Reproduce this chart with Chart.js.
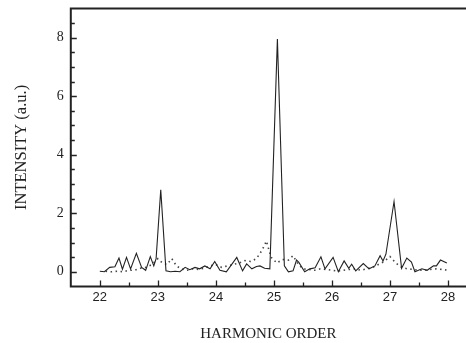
<!DOCTYPE html>
<html>
<head>
<meta charset="utf-8">
<script src="https://cdn.jsdelivr.net/npm/chart.js@4.4.0/dist/chart.umd.min.js"></script>
<style>
  html, body { margin: 0; padding: 0; background: #fff; }
  #wrap { width: 466px; height: 343px; }
</style>
</head>
<body>
<div id="wrap"><canvas id="grafico"></canvas></div>
<script>
// harmonic spectrum, two shots (solid and dotted)
const solidX = [22.0, 22.08, 22.17, 22.26, 22.33, 22.39, 22.46, 22.53, 22.63, 22.72, 22.79, 22.87, 22.93, 22.97, 23.05, 23.14, 23.22, 23.3, 23.38, 23.47, 23.55, 23.64, 23.72, 23.81, 23.9, 23.98, 24.07, 24.18, 24.36, 24.46, 24.53, 24.62, 24.7, 24.76, 24.84, 24.93, 25.06, 25.18, 25.25, 25.33, 25.39, 25.43, 25.53, 25.62, 25.71, 25.81, 25.88, 26.02, 26.11, 26.21, 26.29, 26.34, 26.41, 26.54, 26.64, 26.74, 26.83, 26.88, 26.93, 27.07, 27.2, 27.29, 27.37, 27.43, 27.55, 27.64, 27.75, 27.8, 27.87, 27.98];
const solidY = [0.02, 0.0, 0.15, 0.17, 0.47, 0.09, 0.49, 0.1, 0.63, 0.15, 0.05, 0.52, 0.2, 0.45, 2.8, 0.03, 0.0, 0.02, 0.0, 0.15, 0.07, 0.15, 0.1, 0.2, 0.1, 0.35, 0.05, 0.0, 0.49, 0.03, 0.27, 0.1, 0.18, 0.2, 0.12, 0.1, 7.95, 0.2, 0.0, 0.03, 0.4, 0.32, 0.0, 0.1, 0.14, 0.51, 0.1, 0.49, 0.0, 0.37, 0.12, 0.26, 0.03, 0.28, 0.1, 0.2, 0.55, 0.37, 0.6, 2.4, 0.12, 0.47, 0.33, 0.0, 0.1, 0.05, 0.2, 0.2, 0.4, 0.3];

const dotX = [22.1, 22.2, 22.3, 22.4, 22.5, 22.6, 22.7, 22.8, 22.9, 23.0, 23.08, 23.16, 23.24, 23.32, 23.4, 23.5, 23.6, 23.7, 23.8, 23.9, 24.0, 24.1, 24.2, 24.3, 24.4, 24.5, 24.6, 24.7, 24.8, 24.87, 24.95, 25.05, 25.15, 25.25, 25.33, 25.42, 25.5, 25.6, 25.7, 25.8, 25.9, 26.0, 26.1, 26.2, 26.3, 26.4, 26.5, 26.6, 26.7, 26.8, 26.9, 27.0, 27.1, 27.2, 27.3, 27.4, 27.5, 27.6, 27.7, 27.8, 27.9, 28.0];
const dotY = [0.02, 0.0, 0.02, 0.0, 0.05, 0.05, 0.12, 0.15, 0.25, 0.45, 0.3, 0.25, 0.45, 0.2, 0.1, 0.05, 0.1, 0.08, 0.12, 0.2, 0.25, 0.15, 0.2, 0.25, 0.3, 0.38, 0.35, 0.45, 0.75, 1.05, 0.5, 0.3, 0.42, 0.4, 0.55, 0.25, 0.1, 0.08, 0.05, 0.1, 0.08, 0.05, 0.02, 0.05, 0.08, 0.1, 0.05, 0.1, 0.15, 0.25, 0.35, 0.52, 0.3, 0.15, 0.1, 0.08, 0.05, 0.05, 0.08, 0.1, 0.08, 0.05];

const xTicks = [22, 23, 24, 25, 26, 27, 28];
const yTicks = [0, 2, 4, 6, 8];

const pontos = (xs, ys) => xs.map((x, i) => ({ x: x, y: ys[i] }));

// inward ticks + frame lines
const moldura = {
  id: "moldura",
  afterDraw(chart) {
    const ctx = chart.ctx;
    const a = chart.chartArea;
    const sx = chart.scales.x;
    const sy = chart.scales.y;
    ctx.save();
    ctx.strokeStyle = "#222";
    ctx.lineWidth = 2;
    ctx.beginPath();
    ctx.moveTo(a.left - 1, a.top);
    ctx.lineTo(a.right, a.top);
    ctx.moveTo(a.left, a.top);
    ctx.lineTo(a.left, a.bottom + 1);
    ctx.moveTo(a.left - 1, a.bottom);
    ctx.lineTo(a.right, a.bottom);
    ctx.stroke();
    ctx.lineWidth = 1.3;
    ctx.beginPath();
    for (let v = 22; v <= 28; v += 0.5) {
      const px = Math.round(sx.getPixelForValue(v)) + 0.5;
      const len = xTicks.includes(v) ? 6 : 4;
      ctx.moveTo(px, a.bottom);
      ctx.lineTo(px, a.bottom - len);
    }
    for (let v = 0; v <= 8.5; v += 0.5) {
      const py = Math.round(sy.getPixelForValue(v)) + 0.5;
      const len = yTicks.includes(v) ? 6 : 4;
      ctx.moveTo(a.left, py);
      ctx.lineTo(a.left + len, py);
    }
    ctx.stroke();
    ctx.restore();
  }
};

new Chart(document.getElementById("grafico"), {
  type: "line",
  data: {
    datasets: [
      {
        data: pontos(solidX, solidY),
        borderColor: "#222",
        borderWidth: 1.1,
        pointRadius: 0,
        tension: 0
      },
      {
        data: pontos(dotX, dotY),
        borderColor: "#444",
        borderWidth: 1.6,
        borderDash: [1.5, 3.5],
        pointRadius: 0,
        tension: 0
      }
    ]
  },
  options: {
    responsive: true,
    maintainAspectRatio: false,
    animation: false,
    events: [],
    layout: { padding: { left: 8, right: 0, top: 6, bottom: 0 } },
    plugins: { legend: { display: false }, tooltip: { enabled: false } },
    scales: {
      x: {
        type: "linear",
        min: 21.5,
        max: 28.31,
        afterBuildTicks: s => { s.ticks = xTicks.map(v => ({ value: v })); },
        grid: { display: false, drawTicks: false },
        border: { display: false },
        ticks: {
          autoSkip: false,
          maxRotation: 0,
          padding: 3,
          color: "#222",
          font: { family: "Liberation Sans", size: 13 }
        },
        title: {
          display: true,
          text: "HARMONIC ORDER",
          color: "#222",
          font: { family: "Liberation Serif", size: 15 },
          padding: { top: 17, bottom: 0 }
        }
      },
      y: {
        type: "linear",
        min: -0.5,
        max: 9,
        afterBuildTicks: s => { s.ticks = yTicks.map(v => ({ value: v })); },
        grid: { display: false, drawTicks: false },
        border: { display: false },
        ticks: {
          autoSkip: false,
          padding: 7,
          color: "#222",
          font: { family: "Liberation Serif", size: 14, lineHeight: 0.2 }
        },
        title: {
          display: true,
          text: "INTENSITY (a.u.)",
          color: "#222",
          font: { family: "Liberation Serif", size: 16.5 },
          padding: { top: 4, bottom: 18 }
        }
      }
    }
  },
  plugins: [moldura]
});
</script>
</body>
</html>
